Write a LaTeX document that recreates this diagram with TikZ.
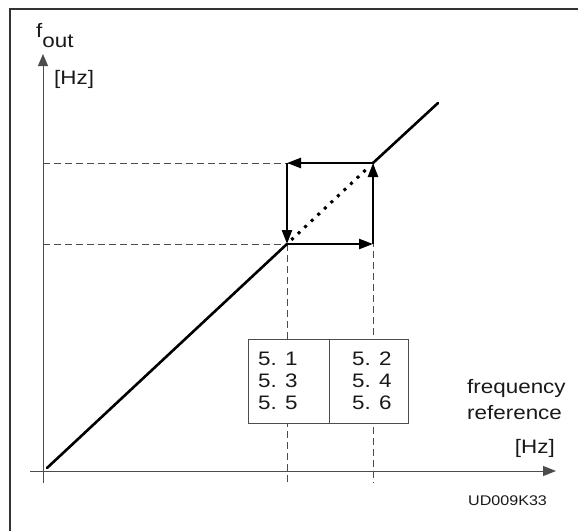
\documentclass[tikz,border=0pt]{standalone}
\usepackage{fontspec}
\setmainfont[FakeStretch=1.15]{Liberation Sans}
\usetikzlibrary{arrows.meta}
\begin{document}
\begin{tikzpicture}[x=1pt,y=-1pt,
  txt/.style={font=\fontsize{19.5}{23}\selectfont, inner sep=0pt, text=black!90},
  small/.style={font=\fontsize{14}{16}\selectfont, inner sep=0pt, text=black!90},
  axis/.style={line width=1pt, draw=black!70},
  guide/.style={line width=0.8pt, draw=black!70, dash pattern=on 7pt off 4pt},
  curve/.style={line width=2.6pt, line cap=round},
  hyst/.style={line width=2.4pt, -{Triangle[length=14pt,width=10pt]}},
  tbl/.style={draw=black!70, line width=1pt, fill=white, minimum height=84pt, outer sep=0pt, inner sep=0pt},
  ]
\useasboundingbox (0,0) rectangle (578,530);
% frame
\coordinate (fbl) at (10,531);
\coordinate (ftl) at (10,9);
\coordinate (ftr) at (579,9);
\draw[line width=1.5pt, black!80] (fbl) -- (ftl) -- (ftr);
% key points
\coordinate (xs) at (30,471);
\coordinate (xe) at (556,471);
\coordinate (ys) at (43,483);
\coordinate (ye) at (43,54);
\coordinate (c0) at (47,468);
\coordinate (c3) at (438,103);
\coordinate (A) at (287,244);
\coordinate (B) at (373,244);
\coordinate (C) at (373,163);
\coordinate (D) at (287,163);
\coordinate (yA) at (43,244);
\coordinate (yD) at (43,163);
\coordinate (bA) at (287,483);
\coordinate (bB) at (373,483);
% guides
\draw[guide] (yA) -- (A);
\draw[guide] (yD) -- (C);
\draw[guide] (A) -- (bA);
\draw[guide] (C) -- (bB);
% parameter table
\node[tbl, minimum width=81pt] (tl) at (288.5,381) {};
\node[tbl, minimum width=79pt] (tr) at (368.5,381) {};
\node[txt, anchor=base west] (p1) at (258,365) {5. 1};
\node[txt, anchor=base west] (p3) at (258,387) {5. 3};
\node[txt, anchor=base west] (p5) at (258,409) {5. 5};
\node[txt, anchor=base west] (p2) at (352,365) {5. 2};
\node[txt, anchor=base west] (p4) at (352,387) {5. 4};
\node[txt, anchor=base west] (p6) at (352,409) {5. 6};
% axes
\draw[axis, -{Triangle[length=13pt,width=10pt]}] (xs) -- (xe);
\draw[axis, -{Triangle[length=12pt,width=10pt]}] (ys) -- (ye);
% characteristic
\draw[curve] (c0) -- (A);
\draw[curve] (C) -- (c3);
\draw[line width=3pt, dash pattern=on 3pt off 6pt, shorten <=6pt, shorten >=6pt] (A) -- (C);
% hysteresis
\draw[hyst] (C) -- (D);
\draw[hyst] (D) -- (A);
\draw[hyst] (A) -- (B);
\draw[hyst] (B) -- (C);
% labels
\node[txt, anchor=base west] (fout) at (36,37) {f\raisebox{-10pt}{out}};
\node[txt, anchor=base west] (hzy) at (54,84) {[Hz]};
\node[txt, anchor=base west] (fr1) at (467,393) {frequency};
\node[txt, anchor=base west] (fr2) at (467,419) {reference};
\node[txt, anchor=base east] (hzx) at (555,453) {[Hz]};
\node[small, anchor=base west] (code) at (468,505) {UD009K33};
\end{tikzpicture}
\end{document}
